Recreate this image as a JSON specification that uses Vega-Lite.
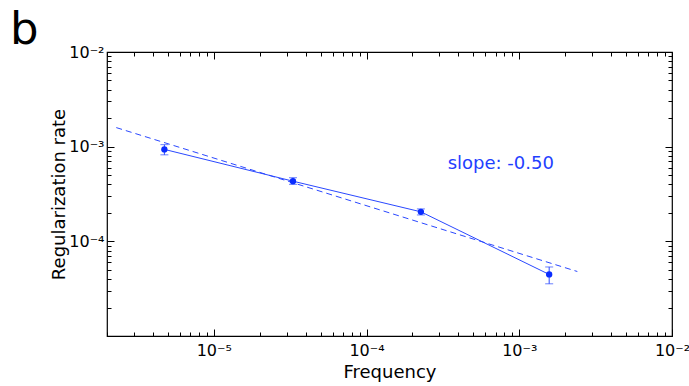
{
  "$schema": "https://vega.github.io/schema/vega-lite/v6.json",
  "width": 565,
  "height": 284,
  "autosize": {"type": "none"},
  "padding": {"left": 107, "top": 52, "right": 17, "bottom": 50},
  "background": "white",
  "title": {"text": "b", "anchor": "start", "frame": "group", "dx": -97, "dy": 11, "offset": 2, "fontSize": 45, "fontWeight": "normal", "font": "DejaVu Sans", "color": "black"},
  "config": {
    "view": {"stroke": "black", "strokeWidth": 1.2},
    "font": "DejaVu Sans",
    "axis": {"grid": false, "domain": false, "tickColor": "black", "tickWidth": 1, "labelColor": "black", "titleColor": "black", "labelFont": "DejaVu Sans", "titleFont": "DejaVu Sans", "labelFontSize": 16, "titleFontSize": 18, "titleFontWeight": "normal", "labelFlush": false, "labelOverlap": false}
  },
  "datasets": {
    "pts": [
      {"f": 4.75e-6, "r": 9.36e-4, "lo": 8.2e-4, "hi": 1.05e-3},
      {"f": 3.3e-5, "r": 4.32e-4, "lo": 4.0e-4, "hi": 4.7e-4},
      {"f": 2.27e-4, "r": 2.05e-4, "lo": 1.9e-4, "hi": 2.2e-4},
      {"f": 1.57e-3, "r": 4.47e-5, "lo": 3.56e-5, "hi": 5.36e-5}
    ],
    "fit": [
      {"f": 2.3e-6, "r": 1.59e-3},
      {"f": 2.4e-3, "r": 4.8e-5}
    ],
    "lab": [
      {"f": 3.4e-4, "r": 6.5e-4, "t": "slope: -0.50"}
    ]
  },
  "layer": [
    {
      "data": {"name": "fit"},
      "mark": {"type": "line", "color": "#2a48ff", "strokeWidth": 1, "strokeDash": [6, 4]},
      "encoding": {
        "x": {"field": "f", "type": "quantitative", "scale": {"type": "log", "domain": [2e-6, 1e-2], "nice": false},
          "axis": {"orient": "bottom", "title": "Frequency", "titlePadding": 2,
            "values": [2e-6,3e-6,4e-6,5e-6,6e-6,7e-6,8e-6,9e-6,1e-5,2e-5,3e-5,4e-5,5e-5,6e-5,7e-5,8e-5,9e-5,1e-4,2e-4,3e-4,4e-4,5e-4,6e-4,7e-4,8e-4,9e-4,1e-3,2e-3,3e-3,4e-3,5e-3,6e-3,7e-3,8e-3,9e-3,1e-2],
            "tickSize": {"condition": {"test": "abs(log(datum.value)/LN10 - round(log(datum.value)/LN10)) < 1e-6", "value": -7}, "value": -4},
            "labelPadding": 13,
            "labelExpr": "abs(log(datum.value)/LN10 - round(log(datum.value)/LN10)) < 1e-6 ? (round(log(datum.value)/LN10) == -2 ? '10⁻²' : round(log(datum.value)/LN10) == -3 ? '10⁻³' : round(log(datum.value)/LN10) == -4 ? '10⁻⁴' : round(log(datum.value)/LN10) == -5 ? '10⁻⁵' : '') : ''"}},
        "y": {"field": "r", "type": "quantitative", "scale": {"type": "log", "domain": [1e-5, 1e-2], "nice": false},
          "axis": {"orient": "left", "title": "Regularization rate", "titlePadding": 0,
            "values": [1e-5,2e-5,3e-5,4e-5,5e-5,6e-5,7e-5,8e-5,9e-5,1e-4,2e-4,3e-4,4e-4,5e-4,6e-4,7e-4,8e-4,9e-4,1e-3,2e-3,3e-3,4e-3,5e-3,6e-3,7e-3,8e-3,9e-3,1e-2],
            "tickSize": {"condition": {"test": "abs(log(datum.value)/LN10 - round(log(datum.value)/LN10)) < 1e-6", "value": -7}, "value": -4},
            "labelPadding": 10,
            "labelExpr": "abs(log(datum.value)/LN10 - round(log(datum.value)/LN10)) < 1e-6 ? (round(log(datum.value)/LN10) == -2 ? '10⁻²' : round(log(datum.value)/LN10) == -3 ? '10⁻³' : round(log(datum.value)/LN10) == -4 ? '10⁻⁴' : '') : ''"}}
      }
    },
    {
      "data": {"name": "pts"},
      "mark": {"type": "rule", "color": "#2a48ff", "strokeWidth": 1},
      "encoding": {
        "x": {"field": "f", "type": "quantitative",
          "axis": {"orient": "top", "title": null, "labels": false,
            "values": [2e-6,3e-6,4e-6,5e-6,6e-6,7e-6,8e-6,9e-6,1e-5,2e-5,3e-5,4e-5,5e-5,6e-5,7e-5,8e-5,9e-5,1e-4,2e-4,3e-4,4e-4,5e-4,6e-4,7e-4,8e-4,9e-4,1e-3,2e-3,3e-3,4e-3,5e-3,6e-3,7e-3,8e-3,9e-3,1e-2],
            "tickSize": {"condition": {"test": "abs(log(datum.value)/LN10 - round(log(datum.value)/LN10)) < 1e-6", "value": -7}, "value": -4}}},
        "y": {"field": "lo", "type": "quantitative",
          "axis": {"orient": "right", "title": null, "labels": false,
            "values": [1e-5,2e-5,3e-5,4e-5,5e-5,6e-5,7e-5,8e-5,9e-5,1e-4,2e-4,3e-4,4e-4,5e-4,6e-4,7e-4,8e-4,9e-4,1e-3,2e-3,3e-3,4e-3,5e-3,6e-3,7e-3,8e-3,9e-3,1e-2],
            "tickSize": {"condition": {"test": "abs(log(datum.value)/LN10 - round(log(datum.value)/LN10)) < 1e-6", "value": -7}, "value": -4}}},
        "y2": {"field": "hi"}
      }
    },
    {
      "data": {"name": "pts"},
      "mark": {"type": "tick", "orient": "horizontal", "color": "#2a48ff", "size": 8, "thickness": 1},
      "encoding": {
        "x": {"field": "f", "type": "quantitative", "axis": null},
        "y": {"field": "lo", "type": "quantitative", "axis": null}
      }
    },
    {
      "data": {"name": "pts"},
      "mark": {"type": "tick", "orient": "horizontal", "color": "#2a48ff", "size": 8, "thickness": 1},
      "encoding": {
        "x": {"field": "f", "type": "quantitative", "axis": null},
        "y": {"field": "hi", "type": "quantitative", "axis": null}
      }
    },
    {
      "data": {"name": "pts"},
      "mark": {"type": "line", "color": "#2a48ff", "strokeWidth": 1},
      "encoding": {
        "x": {"field": "f", "type": "quantitative", "axis": null},
        "y": {"field": "r", "type": "quantitative", "axis": null}
      }
    },
    {
      "data": {"name": "pts"},
      "mark": {"type": "point", "shape": "circle", "filled": true, "color": "#0a2cff", "opacity": 1, "size": 40},
      "encoding": {
        "x": {"field": "f", "type": "quantitative", "axis": null},
        "y": {"field": "r", "type": "quantitative", "axis": null}
      }
    },
    {
      "data": {"name": "lab"},
      "mark": {"type": "text", "color": "#1f40ff", "fontSize": 18, "font": "DejaVu Sans", "align": "left", "baseline": "middle"},
      "encoding": {
        "x": {"field": "f", "type": "quantitative", "axis": null},
        "y": {"field": "r", "type": "quantitative", "axis": null},
        "text": {"field": "t", "type": "nominal"}
      }
    }
  ],
  "resolve": {"axis": {"x": "independent", "y": "independent"}}
}
